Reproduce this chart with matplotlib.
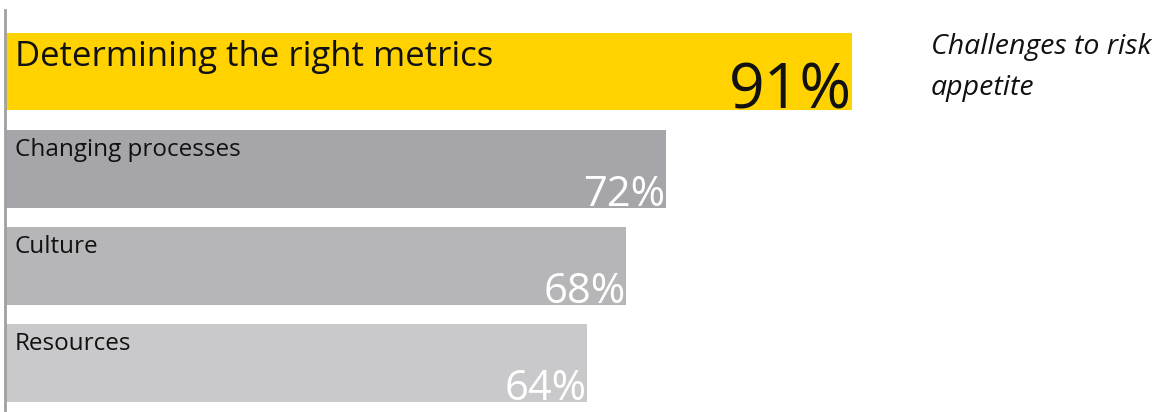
import matplotlib
matplotlib.use("Agg")
import matplotlib.pyplot as plt

# Survey results: challenges to defining risk appetite
categories = ["Determining the right metrics", "Changing processes", "Culture", "Resources"]
values = [91, 72, 68, 64]
value_labels = ["91%", "72%", "68%", "64%"]
title_text = "Challenges to risk\nappetite"

bar_colors = ["#FFD200", "#A6A6AA", "#B6B6B8", "#C9C9CB"]
label_colors = ["#111111", "#111111", "#111111", "#111111"]
value_colors = ["#111111", "#FFFFFF", "#FFFFFF", "#FFFFFF"]
label_sizes = [25, 17.5, 17.5, 17.5]
value_sizes = [45, 30, 30, 30]
label_baseline = [33, 26, 26, 26]  # pixels below each bar's top edge

W, H, DPI = 1161, 412, 100
fig = plt.figure(figsize=(W / DPI, H / DPI), dpi=DPI)
fig.patch.set_facecolor("white")
plt.rcParams["font.family"] = ["Open Sans", "DejaVu Sans"]

# axes placed in pixel units
ax_left, ax_right, ax_top, ax_bottom = 5, 853, 10, 412
ax = fig.add_axes([ax_left / W, 1 - ax_bottom / H, (ax_right - ax_left) / W, (ax_bottom - ax_top) / H])
ax.set_facecolor("none")

ypos = list(range(len(categories)))
bar_h = 0.8
ax.barh(ypos, values, height=bar_h, color=bar_colors, left=0, zorder=2)
ax.set_xlim(4.7, 91.1)
ax.set_ylim(3.505, -0.634)

for s in ["top", "right", "bottom"]:
    ax.spines[s].set_visible(False)
ax.spines["left"].set_color("#A0A0A0")
ax.spines["left"].set_linewidth(2)
ax.set_xticks([])
ax.set_yticks([])

x0 = ax.get_xlim()[0]
for i, (cat, v, vl) in enumerate(zip(categories, values, value_labels)):
    top = i - bar_h / 2
    bottom = i + bar_h / 2
    ax.annotate(cat, xy=(x0, top), xytext=(10, -label_baseline[i]), textcoords="offset pixels",
                ha="left", va="baseline", fontsize=label_sizes[i], color=label_colors[i], zorder=3)
    ax.annotate(vl, xy=(v, bottom), xytext=(0, 2), textcoords="offset pixels",
                ha="right", va="baseline", fontsize=value_sizes[i], color=value_colors[i], zorder=3)

# side caption; the baseline anchor applies to the last line
fig.text(931 / W, 1 - 95 / H, title_text, ha="left", va="baseline", fontsize=20.5,
         style="italic", color="#111111", linespacing=1.6)

fig.savefig("out.png", dpi=DPI, facecolor="white")
